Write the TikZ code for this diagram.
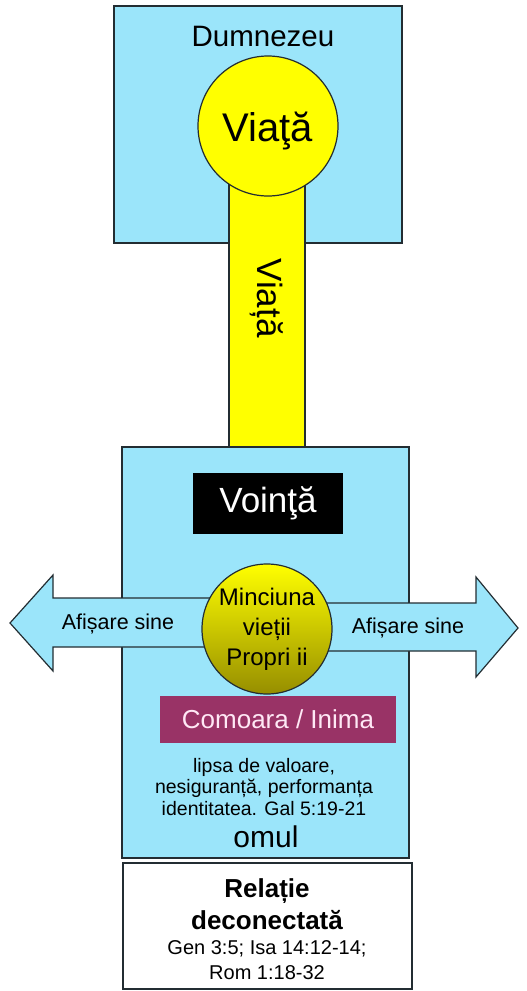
\documentclass[tikz,border=0pt]{standalone}
\usepackage{fontspec}
\setmainfont{Liberation Sans}
\usetikzlibrary{calc}

\definecolor{cer}{RGB}{155,229,250}
\definecolor{galben}{RGB}{255,255,0}
\definecolor{oliv}{RGB}{150,142,0}
\definecolor{visiniu}{RGB}{153,51,102}
\definecolor{contur}{RGB}{35,45,50}
\definecolor{roz}{RGB}{255,232,245}

\tikzset{
    cutie/.style={draw=contur, line width=1.2pt, fill=cer},
    bara/.style={draw=contur, line width=1.2pt, fill=galben},
    sageata/.style={draw=contur, line width=1.2pt, fill=cer, line join=miter},
    cerc/.style={circle, draw=contur, line width=1.2pt, inner sep=0pt}
}

\begin{document}
\begin{tikzpicture}[x=1pt,y=-1pt]
    \useasboundingbox (0,0) rectangle (527,991);

    \coordinate (d1) at (114,6);
    \coordinate (d2) at (402,243);
    \coordinate (b1) at (229,150);
    \coordinate (b2) at (305,447);
    \coordinate (o1) at (122,447);
    \coordinate (o2) at (409,858);
    \coordinate (r1) at (123,863);
    \coordinate (r2) at (412,989);

    \draw[cutie] (d1) rectangle (d2);
    \draw[bara] (b1) rectangle (b2);
    \draw[cutie] (o1) rectangle (o2);
    \draw[draw=contur, line width=1.2pt, fill=white] (r1) rectangle (r2);

    \node (dumnezeu) at (263,36) {\fontsize{29.5}{34}\selectfont Dumnezeu};
    \node[cerc, fill=galben, minimum size=140pt] (viata) at (268,126) {};
    \node (viatatext) at (268,131) {\fontsize{40}{46}\selectfont Viaţă};
    \node[rotate=-90] (viatabara) at (267,298) {\fontsize{35}{40}\selectfont Viață};

    \node[fill=black, minimum width=150pt, minimum height=61pt] (vointa) at (268,503)
        {\color{white}\fontsize{35}{40}\selectfont Voinţă};

    \draw[sageata] (10,623) -- (53,575) -- (53,598) -- (225,598)
        -- (225,647) -- (53,647) -- (53,671) -- cycle;
    \draw[sageata] (518,628) -- (476,577) -- (476,603) -- (310,603)
        -- (310,651) -- (476,651) -- (476,677) -- cycle;
    \node (afisstanga) at (118,624) {\fontsize{21.5}{24}\selectfont Afișare sine};
    \node (afisdreapta) at (408,628) {\fontsize{21.5}{24}\selectfont Afișare sine};

    \node[cerc, top color=galben, middle color=galben, bottom color=oliv,
        minimum size=130pt, align=center, font=\fontsize{24}{30}\selectfont]
        (minciuna) at (267,629) {Minciuna\\vieții\\Propri ii};

    \node[fill=visiniu, minimum width=236pt, minimum height=47pt] (comoara) at (278,719)
        {\color{roz}\fontsize{26}{30}\selectfont Comoara / Inima};
    \node[align=center, font=\fontsize{19.5}{21.5}\selectfont] (lipsa) at (264,787)
        {lipsa de valoare,\\nesiguranță, performanța\\identitatea. Gal 5:19-21};
    \node (omul) at (266,837) {\fontsize{30}{34}\selectfont omul};

    \node[align=center, font=\fontsize{26}{32}\selectfont\bfseries] (relatie) at (267,904)
        {Relație\\deconectată};
    \node[align=center, font=\fontsize{20}{25}\selectfont] (referinte) at (267,960)
        {Gen 3:5; Isa 14:12-14;\\Rom 1:18-32};
\end{tikzpicture}
\end{document}
